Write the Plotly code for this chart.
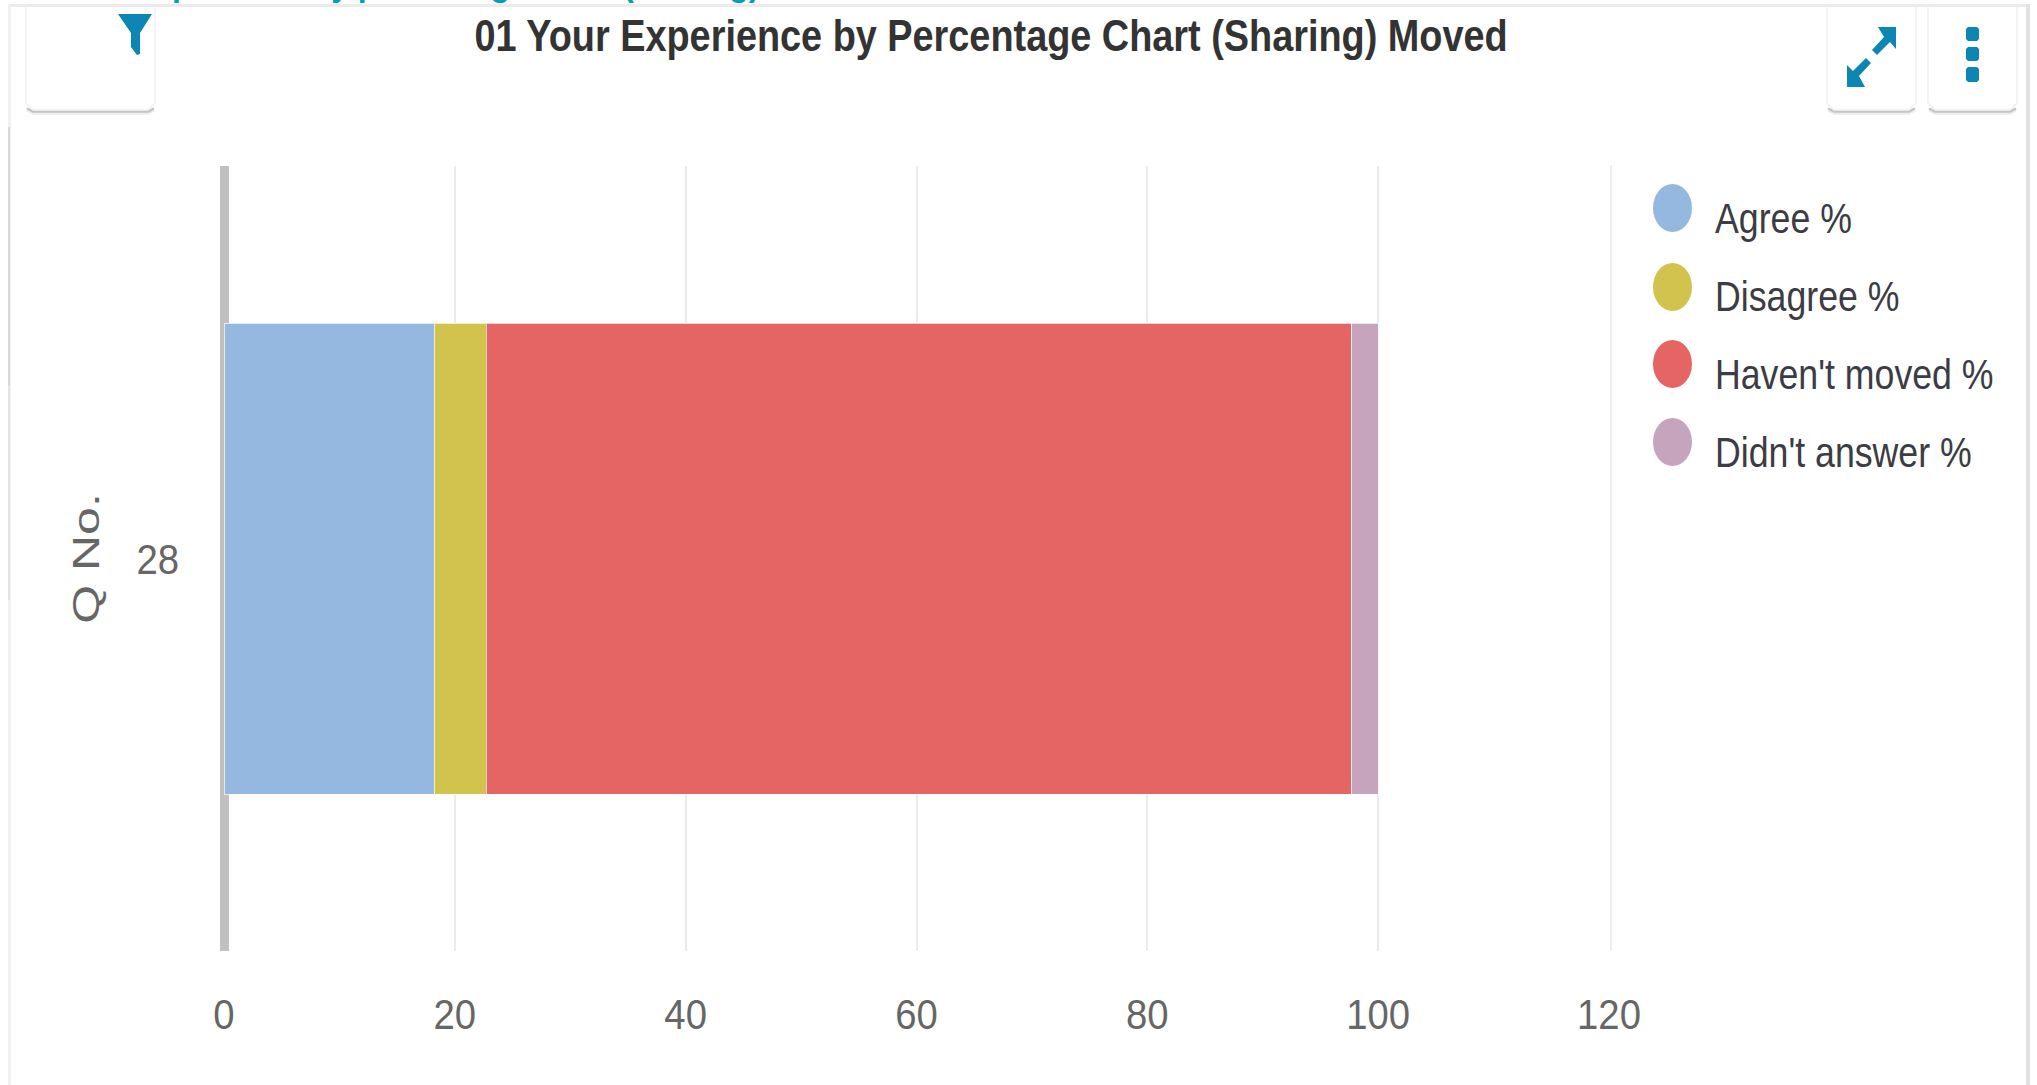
import json
import plotly.graph_objects as go

W, H = 2037, 1085
L, R, T, B = 224, 2037 - 1609, 166, 1085 - 951

categories = ["28"]
series_names = ["Agree %", "Disagree %", "Haven't moved %", "Didn't answer %"]
agree = [18.2]
disagree = [4.5]
havent_moved = [75.0]
didnt_answer = [2.3]
series_values = [agree, disagree, havent_moved, didnt_answer]
series_colors = ["#95B8E0", "#D2C34F", "#E56464", "#C6A4BE"]
x_ticks = [0, 20, 40, 60, 80, 100, 120]
chart_title = "01 Your Experience by Percentage Chart (Sharing) Moved"
y_title = "Q No."
clipped_heading = "Experience by percentage chart (sharing)"

FONT = "Liberation Sans, Arial, sans-serif"


def px(x):
    return (x - L) / (W - L - R)


def py(y):
    return 1 - (y - T) / (H - T - B)


def path(points, close=True):
    d = "M" + " L".join(f"{px(x):.5f},{py(y):.5f}" for x, y in points)
    return d + (" Z" if close else "")


fig = go.Figure()
for name, vals, color in zip(series_names, series_values, series_colors):
    fig.add_trace(go.Bar(
        y=categories, x=vals, name=name, orientation="h",
        marker=dict(color=color, line=dict(color="rgba(255,255,255,0.7)", width=1)),
        showlegend=False,
    ))

shapes = []
annotations = []


def rect(x0, y0, x1, y1, color, layer="below"):
    shapes.append(dict(type="rect", xref="paper", yref="paper",
                       x0=px(x0), x1=px(x1), y0=py(y0), y1=py(y1),
                       line=dict(color=color, width=0), fillcolor=color, layer=layer))


# card edges
rect(8, 4, 2028, 7, "#EBEBEB")
rect(8, 4, 11, 1085, "#F1F1F1")
rect(8, 127, 10, 385, "#D8D8D8")
rect(8, 385, 10, 600, "#E4E4E4")
rect(2026, 4, 2030, 1085, "#E2E2E2")
rect(1610, 165, 1612, 951, "#EEEEEE")


# buttons
def button(x0, x1):
    yb = 110
    r = 7
    for off, col in [(3.5, "#EDEDED"), (1.5, "#C4C4C4")]:
        shapes.append(dict(type="path", xref="paper", yref="paper", layer="below",
                           path=path([(x0 + 1, yb + off - 3), (x0 + r, yb + off), (x1 - r, yb + off), (x1 - 1, yb + off - 3)], close=False),
                           line=dict(color=col, width=2.5)))
    shapes.append(dict(type="path", xref="paper", yref="paper", layer="below",
                       path=path([(x0, 6), (x0, yb - r), (x0 + r, yb), (x1 - r, yb), (x1, yb - r), (x1, 6)], close=False),
                       line=dict(color="#F0F0F0", width=1.5)))


button(26, 155)
button(1827, 1916)
button(1928, 2017)

BLUE = "#0D86B4"


def icon(points):
    shapes.append(dict(type="path", xref="paper", yref="paper", path=path(points),
                       fillcolor=BLUE, line=dict(color=BLUE, width=0), layer="above"))


# filter icon
icon([(118, 14), (152, 14), (140, 33), (140, 54), (137, 55), (131, 47), (131, 33)])
# expand icon: upper right arrow
icon([(1878, 27), (1896, 27), (1896, 49), (1890, 42), (1877, 55), (1872, 50), (1884, 37)])
# expand icon: lower left arrow
icon([(1847, 65), (1853, 71), (1866, 58), (1871, 63), (1859, 76), (1865, 87), (1847, 87)])
# kebab
for yy0, yy1 in [(27, 41), (47, 61), (67, 82)]:
    shapes.append(dict(type="path", xref="paper", yref="paper", layer="above",
                       path=path([(1966, yy0 + 2), (1968, yy0), (1977, yy0), (1979, yy0 + 2),
                                  (1979, yy1 - 2), (1977, yy1), (1968, yy1), (1966, yy1 - 2)]),
                       fillcolor=BLUE, line=dict(color=BLUE, width=0)))

# legend
legend_y = [208, 287, 364, 442]
legend_text_y = [218, 296, 374, 452]
for name, color, cy, ty in zip(series_names, series_colors, legend_y, legend_text_y):
    shapes.append(dict(type="circle", xref="paper", yref="paper", layer="above",
                       x0=px(1653), x1=px(1692), y0=py(cy - 24), y1=py(cy + 24),
                       fillcolor=color, line=dict(width=0)))
    annotations.append(dict(text=name, xref="paper", yref="paper", x=px(1713), y=py(ty),
                            xanchor="left", yanchor="middle", showarrow=False,
                            font=dict(family=FONT, size=43, color="#3C3C44")))

# clipped heading at very top of the screenshot
annotations.append(dict(text=clipped_heading, xref="paper", yref="paper", x=px(132), y=py(4),
                        xanchor="left", yanchor="bottom", showarrow=False,
                        font=dict(family=FONT, size=32, color="#00A0B4", weight="bold"),
                        borderpad=0))

fig.update_layout(
    width=W, height=H, barmode="stack", bargap=0.4,
    paper_bgcolor="white", plot_bgcolor="white",
    margin=dict(l=L, r=R, t=T, b=B, autoexpand=False),
    title=dict(text=chart_title, x=991 / W, y=1 - 36 / H,
               xanchor="center", yanchor="middle",
               font=dict(family=FONT, size=44, color="#333333", weight="bold")),
    xaxis=dict(range=[0, 120], tickmode="array", tickvals=x_ticks,
               showgrid=True, gridcolor="#EBEBEB", gridwidth=1.5,
               zeroline=True, zerolinecolor="#C0C0C0", zerolinewidth=9,
               showline=False, ticks="", ticklabelstandoff=34,
               tickfont=dict(family=FONT, size=43, color="#666666")),
    yaxis=dict(showgrid=False, zeroline=False, showline=False, ticks="",
               ticklabelstandoff=44,
               tickfont=dict(family=FONT, size=43, color="#666666"),
               title=dict(text=y_title, standoff=20,
                          font=dict(family=FONT, size=36, color="#666666"))),
    shapes=shapes, annotations=annotations,
)

# The reference's text is horizontally squeezed; real text is fitted with SVG textLength.
text_fit = {chart_title: 0.86, y_title: 1.39, clipped_heading: 0.995}
text_fit.update({n: 0.83 for n in series_names})
text_fit.update({str(t): 0.89 for t in x_ticks})
text_fit[categories[0]] = 0.89

post = """
document.body.style.margin='0';document.body.style.overflow='hidden';
var fit = %s;
function applyFit(){
  document.querySelectorAll('svg text').forEach(function(el){
    var f = fit[el.textContent];
    if(!f || el.hasAttribute('textLength')) return;
    var n = el.getComputedTextLength();
    if(!n) return;
    el.setAttribute('lengthAdjust','spacingAndGlyphs');
    el.setAttribute('textLength', (n*f).toFixed(1));
    if(el.closest('.annotation')){
      el.setAttribute('x', parseFloat(el.getAttribute('x')) - n*(1-f)/2);
    }
  });
}
applyFit(); setTimeout(applyFit,50); setTimeout(applyFit,300);
""" % json.dumps(text_fit)

fig.write_html("out.html", post_script=post, config=dict(displayModeBar=False))
